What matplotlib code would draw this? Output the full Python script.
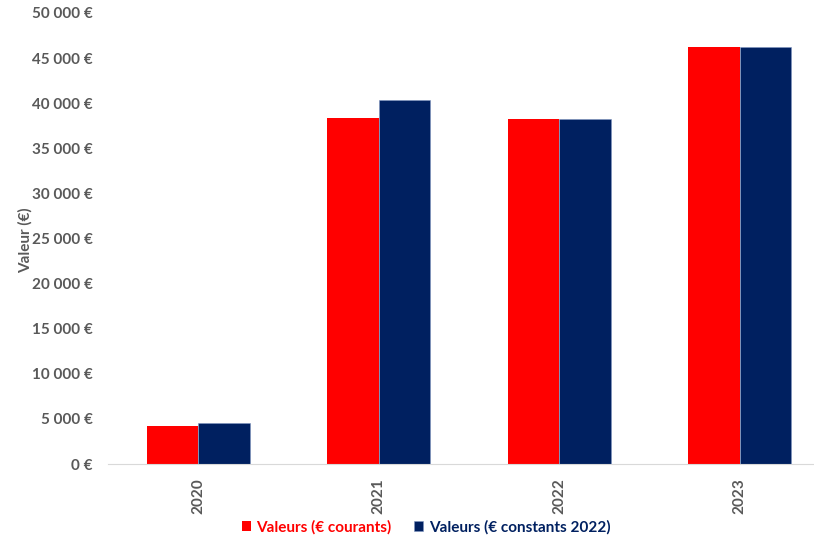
import matplotlib
matplotlib.use("Agg")
from matplotlib import pyplot as plt
from matplotlib.ticker import FuncFormatter
import numpy as np

years = ["2020", "2021", "2022", "2023"]
courants = [4200, 38400, 38300, 46200]
constants_2022 = [4500, 40300, 38300, 46200]

red = "#FF0000"
navy = "#002060"
gray = "#595959"

plt.rcParams["font.family"] = ["Lato", "DejaVu Sans"]
plt.rcParams["font.weight"] = "bold"

fig = plt.figure(figsize=(8.14, 5.41), dpi=100)
ax = fig.add_axes([108 / 814, 77 / 541, 722 / 814, 451 / 541])

x = np.arange(len(years))
w = 0.285
b1 = ax.bar(x - w / 2, courants, w, color=red, label="Valeurs (€ courants)")
b2 = ax.bar(x + w / 2, constants_2022, w, color=navy, edgecolor="#8096c0", linewidth=0.4,
            label="Valeurs (€ constants 2022)")

ax.set_xlim(-0.5, 3.5)
ax.set_ylim(0, 50000)
ax.set_yticks(np.arange(0, 50001, 5000))
ax.yaxis.set_major_formatter(FuncFormatter(lambda v, p: f"{int(v):,} €".replace(",", " ")))
ax.set_xticks(x)
ax.set_xticklabels(years, rotation=90)

for s in ["top", "right", "left"]:
    ax.spines[s].set_visible(False)
ax.spines["bottom"].set_color("#d9d9d9")
ax.tick_params(axis="both", length=0, labelsize=11, labelcolor=gray)
ax.tick_params(axis="y", pad=11)
ax.tick_params(axis="x", pad=10)

fig.text(25 / 814, 1 - 240 / 541, "Valeur (€)", rotation=90, ha="center", va="center",
         color=gray, fontsize=11, fontweight="bold")

leg = fig.legend(handles=[b1, b2], loc="center", bbox_to_anchor=(426 / 814, 1 - 527 / 541),
                 ncol=2, frameon=False, fontsize=11, handlelength=0.6, handleheight=0.6,
                 handletextpad=0.35, columnspacing=1.5)
for t, c in zip(leg.get_texts(), [red, navy]):
    t.set_color(c)

fig.savefig("out.png", dpi=100)
